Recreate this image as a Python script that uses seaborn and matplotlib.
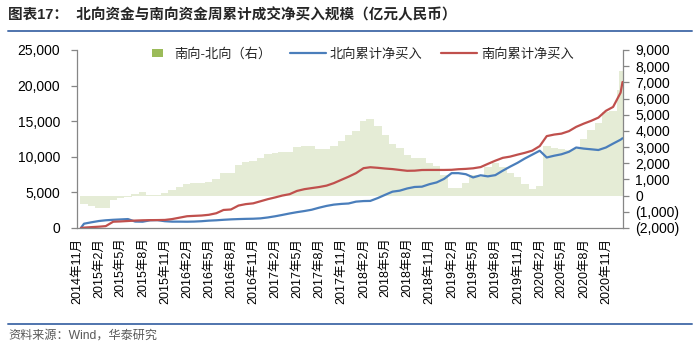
import matplotlib
matplotlib.use('Agg')
import matplotlib.pyplot as plt
import matplotlib.ticker as mticker
from matplotlib.patches import Patch, Rectangle
from matplotlib.lines import Line2D
from matplotlib.legend_handler import HandlerPatch
import seaborn as sns
import pandas as pd

sns.set_theme(style='white')
plt.rcParams['font.family'] = ['Liberation Sans', 'Noto Sans CJK SC']
plt.rcParams['axes.unicode_minus'] = False

# ---------------- data (亿元人民币) ----------------
month_ends = list(pd.date_range('2014-12-01', '2021-01-01', freq='MS') - pd.Timedelta(days=1))
dates = [pd.Timestamp('2014-11-17')] + month_ends + [pd.Timestamp('2021-01-08')]

north_cum = [0,
    600, 800, 980, 1080, 1150, 1200, 1250, 900, 880, 1080, 1100, 950, 890, 890, 880,
    900, 950, 1030, 1080, 1150, 1210, 1250, 1280, 1300, 1350, 1480, 1650, 1830, 2040,
    2220, 2380, 2560, 2850, 3100, 3280, 3380, 3440, 3700, 3780, 3800, 4200, 4650, 5100,
    5240, 5550, 5760, 5800, 6150, 6400, 6900, 7700, 7700, 7550, 7100, 7400, 7250, 7420,
    8050, 8610, 9150, 9750, 10300, 10850, 9900, 10150, 10350, 10700, 11300, 11150,
    11050, 10950, 11300, 11850, 12400,
    12600]

south_cum = [0,
    50, 120, 180, 260, 880, 920, 980, 1040, 1080, 1100, 1110, 1130, 1250, 1450, 1650,
    1700, 1750, 1850, 2070, 2530, 2600, 3150, 3350, 3460, 3750, 4050, 4300, 4550, 4750,
    5200, 5450, 5600, 5750, 5950, 6300, 6760, 7200, 7700, 8400, 8530, 8450, 8350, 8270,
    8150, 8030, 8050, 8140, 8150, 8150, 8150, 8170, 8250, 8300, 8380, 8550, 9000, 9450,
    9850, 10020, 10300, 10550, 10860, 11500, 12900, 13120, 13250, 13600, 14200, 14650,
    15050, 15500, 16450, 17000, 19000,
    20500]

bar_dates = dates[1:]
south_minus_north = [
    -500, -650, -750, -780, -270, -150, -100, 100, 200, 50, 30, 180, 330, 560, 700,
    780, 800, 850, 1000, 1380, 1400, 1900, 2050, 2150, 2350, 2550, 2650, 2700, 2720,
    2980, 3070, 3050, 2900, 2850, 3050, 3400, 3750, 4000, 4620, 4730, 4300, 3750, 3200,
    2950, 2480, 2300, 2300, 2000, 1800, 1250, 450, 500, 750, 1250, 1150, 1750, 2030,
    1750, 1400, 1150, 700, 400, 600, 3050, 2950, 2900, 2800, 2900, 3500, 4050, 4500,
    5150, 5200, 6500,
    7700]

tick_dates = list(pd.date_range('2014-11-01', '2020-11-01', freq='3MS'))
tick_labels = [f'{d.year}年{d.month}月' for d in tick_dates]

legend_labels = ['南向-北向（右）', '北向累计净买入', '南向累计净买入']
title = '图表17：  北向资金与南向资金周累计成交净买入规模（亿元人民币）'
source = '资料来源：Wind，华泰研究'

# ---------------- styles ----------------
c_blue = '#4a7ebb'
c_red = '#c0504d'
c_green = '#9bbb59'
c_bar = '#e5ecd6'
c_axis = '#868686'

df = pd.DataFrame({'date': dates, 'north': north_cum, 'south': south_cum})
dfb = pd.DataFrame({'date': bar_dates, 'diff': south_minus_north})

fig = plt.figure(figsize=(7.0, 3.47), dpi=100)
ax1 = fig.add_axes([0.110, 0.343, 0.780, 0.513])
ax2 = ax1.twinx()
ax1.set_zorder(ax2.get_zorder() + 1)
ax1.patch.set_visible(False)

ax2.bar(dfb['date'], dfb['diff'], width=31.5, color=c_bar, edgecolor='none',
        linewidth=0, zorder=1)

sns.lineplot(data=df, x='date', y='north', ax=ax1, color=c_blue, linewidth=1.6, legend=False)
sns.lineplot(data=df, x='date', y='south', ax=ax1, color=c_red, linewidth=1.6, legend=False)

ax1.set_xlim(pd.Timestamp('2014-11-01'), pd.Timestamp('2021-01-10'))
ax1.set_ylim(0, 25000)
ax1.yaxis.set_major_locator(mticker.MultipleLocator(5000))
ax1.yaxis.set_major_formatter(mticker.FuncFormatter(lambda v, p: f'{v:,.0f}'))
ax2.set_ylim(-2000, 9000)
ax2.yaxis.set_major_locator(mticker.MultipleLocator(1000))

def paren(v, p):
    if v < 0:
        return f'({abs(v):,.0f})'
    return f'{v:,.0f}'
ax2.yaxis.set_major_formatter(mticker.FuncFormatter(paren))

ax1.set_xticks(tick_dates)
ax1.set_xticklabels(tick_labels, rotation=90)
ax1.set_xlabel('')
ax1.set_ylabel('')
ax2.set_ylabel('')

for ax in (ax1, ax2):
    for s in ax.spines.values():
        s.set_color(c_axis)
        s.set_linewidth(0.9)
    ax.spines['top'].set_visible(False)
    ax.tick_params(axis='both', which='major', length=4, width=0.9, color=c_axis,
                   labelsize=10, labelcolor='black', direction='out')
ax1.tick_params(axis='x', labelsize=9, pad=3)
ax1.tick_params(axis='y', left=True, pad=8)
ax2.tick_params(axis='y', right=True, pad=5)
ax1.spines['right'].set_visible(False)
ax2.spines['left'].set_visible(False)
ax2.spines['bottom'].set_visible(False)
ax1.grid(False)
ax2.grid(False)


def small_patch(legend, orig_handle, xdescent, ydescent, width, height, fontsize):
    w = width * 0.3
    h = height * 0.8
    return Rectangle((width - w - 0.22 * width - xdescent, (height - h) / 2 - ydescent), w, h)


handles = [Patch(facecolor=c_green, edgecolor='none'),
           Line2D([0], [0], color=c_blue, lw=1.6),
           Line2D([0], [0], color=c_red, lw=1.6)]
ax1.legend(handles, legend_labels, loc='center', bbox_to_anchor=(0.508, 0.975), ncol=3,
           frameon=False, fontsize=9.5, handlelength=2.7, handleheight=0.7,
           columnspacing=1.4, handletextpad=0.3, borderaxespad=0,
           handler_map={Patch: HandlerPatch(patch_func=small_patch)})

fig.text(0.012, 0.957, title, fontsize=10.5, fontweight='bold', va='center', ha='left')
fig.add_artist(Line2D([0.012, 0.988], [0.911, 0.911], transform=fig.transFigure,
                      color='#4f74ad', lw=1.4))
fig.add_artist(Line2D([0.012, 0.988], [0.066, 0.066], transform=fig.transFigure,
                      color='#4f74ad', lw=1.4))
fig.text(0.012, 0.033, source, fontsize=8.7, color='#595959', va='center', ha='left')

fig.savefig('out.png', dpi=100)
